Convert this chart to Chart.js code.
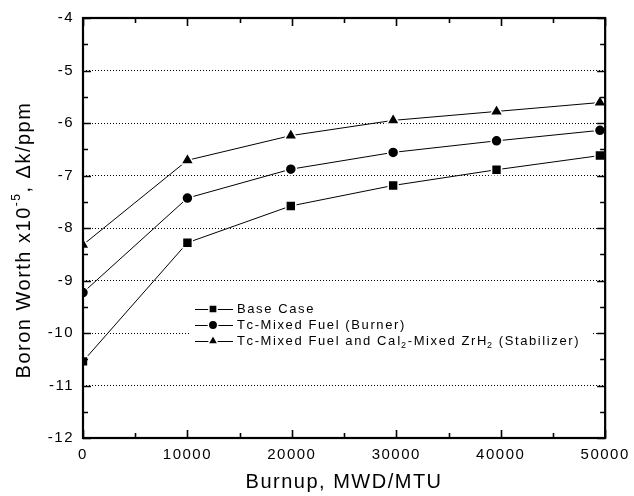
<!DOCTYPE html>
<html>
<head>
<meta charset="utf-8">
<script src="https://cdn.jsdelivr.net/npm/chart.js@4"></script>
<style>
    html, body { margin: 0; padding: 0; background: #fff; }
    #wrap { width: 634px; height: 496px; }
</style>
</head>
<body>
<div id="wrap"><canvas id="boron-chart" width="634" height="496"></canvas></div>
<script>
// Burnup (MWD/MTU) at each calculated point
const burnup = [0, 10000, 19900, 29700, 39600, 49500];

// Boron worth x10^-5 dk/ppm
const baseCase = [-10.54, -8.28, -7.58, -7.19, -6.89, -6.62];
const tcMixedBurner = [-9.23, -7.43, -6.88, -6.56, -6.34, -6.14];
const tcMixedStabilizer = [-8.32, -6.71, -6.24, -5.95, -5.78, -5.61];

const seriesLabels = [
    'Base Case',
    'Tc-Mixed Fuel (Burner)',
    'Tc-Mixed Fuel and CaI\u2082-Mixed ZrH\u2082 (Stabilizer)'
];

const xTickValues = [0, 10000, 20000, 30000, 40000, 50000];
const yTickValues = [-12, -11, -10, -9, -8, -7, -6, -5, -4];

// y title pieces: [text, superscript?]
const yTitleParts = [['Boron Worth x10', false], ['-5', true], [', \u0394k/ppm', false]];

const FONT = "'Liberation Sans', Arial, Helvetica, sans-serif";

function toPoints(values) {
    return values.map((v, i) => ({ x: burnup[i], y: v }));
}

// frame + inward ticks on all sides
const framePlugin = {
    id: 'frame',
    beforeDraw(chart) {
        chart.ctx.letterSpacing = '1.5px';
    },
    afterDatasetsDraw(chart) {
        const { ctx, chartArea: a, scales } = chart;
        const xs = scales.x, ys = scales.y;
        ctx.save();
        ctx.strokeStyle = '#000';
        ctx.lineWidth = 1.6;
        ctx.beginPath();
        for (let v = xs.min; v <= xs.max; v += 5000) {
            const px = Math.round(xs.getPixelForValue(v)) + 0.5;
            const len = (v % 10000 === 0) ? 8 : 5;
            ctx.moveTo(px, a.bottom); ctx.lineTo(px, a.bottom - len);
            ctx.moveTo(px, a.top); ctx.lineTo(px, a.top + len);
        }
        for (let v = ys.min; v <= ys.max; v += 0.5) {
            const py = Math.round(ys.getPixelForValue(v)) + 0.5;
            const len = Number.isInteger(v) ? 8 : 5;
            ctx.moveTo(a.left, py); ctx.lineTo(a.left + len, py);
            ctx.moveTo(a.right, py); ctx.lineTo(a.right - len, py);
        }
        ctx.stroke();
        ctx.lineWidth = 2.2;
        ctx.strokeRect(a.left, a.top, a.right - a.left, a.bottom - a.top);
        ctx.restore();
    },
    afterDraw(chart) {
        // rotated y title with superscript exponent
        const { ctx, chartArea: a } = chart;
        const big = '20px ' + FONT, small = '12px ' + FONT;
        ctx.save();
        ctx.letterSpacing = '1.5px';
        let w = 0;
        yTitleParts.forEach(([t, sup]) => {
            ctx.font = sup ? small : big;
            w += ctx.measureText(t).width;
        });
        ctx.translate(24, (a.top + a.bottom) / 2 + 12);
        ctx.rotate(-Math.PI / 2);
        ctx.fillStyle = '#000';
        ctx.textBaseline = 'middle';
        let tx = -w / 2;
        yTitleParts.forEach(([t, sup]) => {
            ctx.font = sup ? small : big;
            ctx.fillText(t, tx, sup ? -7 : 0);
            tx += ctx.measureText(t).width;
        });
        ctx.restore();
    }
};

// legend box inside the plot, with subscript 2s
const legendPlugin = {
    id: 'innerLegend',
    afterDatasetsDraw(chart) {
        const { ctx, chartArea: a } = chart;
        const x0 = a.left + 112;
        const y0 = a.top + 291;
        const rowH = 16;
        ctx.save();
        ctx.fillStyle = '#fff';
        ctx.fillRect(x0 - 5, y0 - 11, 402, 52);
        chart.data.datasets.forEach((ds, i) => {
            const y = y0 + i * rowH;
            ctx.strokeStyle = '#000';
            ctx.lineWidth = 1;
            ctx.beginPath();
            ctx.moveTo(x0, y + 0.5);
            ctx.lineTo(x0 + 38, y + 0.5);
            ctx.stroke();
            const opts = {
                pointStyle: ds.pointStyle,
                radius: ds.legendRadius,
                rotation: 0,
                borderWidth: 1.5
            };
            ctx.fillStyle = '#000';
            ctx.strokeStyle = '#fff';
            ctx.lineWidth = 1.5;
            Chart.helpers.drawPoint(ctx, opts, x0 + 18, y);
            let tx = x0 + 42;
            ctx.fillStyle = '#000';
            ctx.textBaseline = 'middle';
            ctx.letterSpacing = '1.6px';
            for (const ch of ds.label) {
                if (ch === '\u2082') {
                    ctx.font = '9px ' + FONT;
                    ctx.fillText('2', tx - 1, y + 5);
                    tx += ctx.measureText('2').width - 1;
                } else {
                    ctx.font = '13px ' + FONT;
                    ctx.fillText(ch, tx, y);
                    tx += ctx.measureText(ch).width;
                }
            }
        });
        ctx.restore();
    }
};

document.addEventListener('DOMContentLoaded', () => {
    const canvas = document.getElementById('boron-chart');
    const ctx = canvas.getContext('2d');

    Chart.defaults.font.family = FONT;
    Chart.defaults.color = '#000';

    const styles = [
        { pointStyle: 'rect', radius: 7, legendRadius: 5.8 },
        { pointStyle: 'circle', radius: 5.5, legendRadius: 4.7 },
        { pointStyle: 'triangle', radius: 7.4, legendRadius: 6 }
    ];
    const series = [baseCase, tcMixedBurner, tcMixedStabilizer];

    const datasets = series.map((vals, i) => ({
        label: seriesLabels[i],
        data: toPoints(vals),
        showLine: true,
        borderColor: '#000',
        borderWidth: 1,
        backgroundColor: '#000',
        pointBackgroundColor: '#000',
        pointBorderColor: '#fff',
        pointBorderWidth: 1.5,
        pointStyle: styles[i].pointStyle,
        pointRadius: styles[i].radius,
        legendRadius: styles[i].legendRadius,
        clip: 0
    }));

    new Chart(ctx, {
        type: 'scatter',
        data: { datasets: datasets },
        options: {
            responsive: false,
            animation: false,
            events: [],
            layout: { padding: { left: 0, right: 26, top: 14, bottom: 0 } },
            plugins: {
                legend: { display: false },
                tooltip: { enabled: false }
            },
            scales: {
                x: {
                    type: 'linear',
                    min: 0,
                    max: 50000,
                    afterFit: (scale) => { scale.height = 58; },
                    afterBuildTicks: (scale) => {
                        scale.ticks = xTickValues.map(v => ({ value: v }));
                    },
                    ticks: {
                        font: { size: 15 },
                        padding: 8,
                        maxRotation: 0,
                        callback: (v) => String(v)
                    },
                    grid: { display: false, drawTicks: false },
                    border: { display: false },
                    title: {
                        display: true,
                        text: 'Burnup, MWD/MTU',
                        font: { size: 20 },
                        padding: { top: 0, bottom: 2 }
                    }
                },
                y: {
                    type: 'linear',
                    min: -12,
                    max: -4,
                    afterFit: (scale) => { scale.width = 83; },
                    afterBuildTicks: (scale) => {
                        scale.ticks = yTickValues.map(v => ({ value: v }));
                    },
                    ticks: {
                        font: { size: 15 },
                        padding: 9,
                        callback: (v) => String(v)
                    },
                    grid: {
                        drawTicks: false,
                        lineWidth: 1,
                        color: (c) => (c.tick && (c.tick.value === -12 || c.tick.value === -4)) ? 'rgba(0,0,0,0)' : '#000'
                    },
                    border: { display: false, dash: [1, 2] },
                    title: { display: false }
                }
            }
        },
        plugins: [framePlugin, legendPlugin]
    });
});
</script>
</body>
</html>
